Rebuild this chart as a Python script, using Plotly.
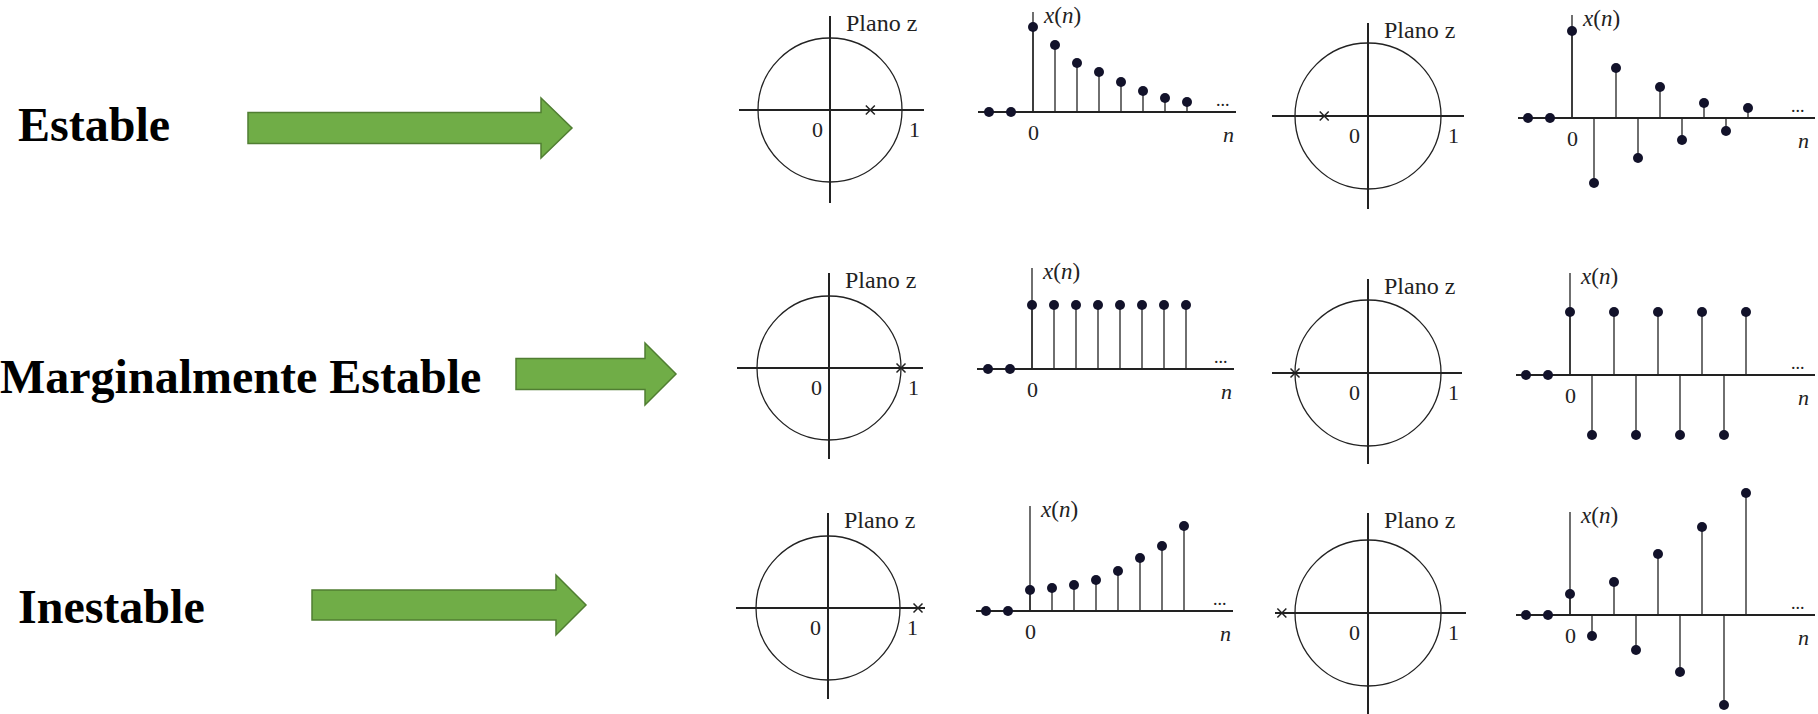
import plotly.graph_objects as go

W, H = 1818, 714

# etiquetas de cada fila
row_labels = ["Estable", "Marginalmente Estable", "Inestable"]

# polos sobre el eje real del plano z (fila por fila, izquierda y derecha)
poles = [0.56, -0.60, 1.0, -1.0, 1.25, -1.18]

# secuencias x(n): n = -2, -1 valen cero, luego n = 0, 1, 2, ...
n_neg = [-2, -1]
x_stable_pos = [0.85, 0.67, 0.49, 0.40, 0.30, 0.21, 0.14, 0.10]
x_stable_alt = [0.87, -0.65, 0.50, -0.40, 0.31, -0.22, 0.15, -0.13, 0.10]
x_marg_pos = [0.64, 0.64, 0.64, 0.64, 0.64, 0.64, 0.64, 0.64]
x_marg_alt = [0.63, -0.60, 0.63, -0.60, 0.63, -0.60, 0.63, -0.60, 0.63]
x_inest_pos = [0.21, 0.23, 0.26, 0.31, 0.40, 0.53, 0.65, 0.85]
x_inest_alt = [0.21, -0.21, 0.33, -0.35, 0.61, -0.57, 0.88, -0.90, 1.22]
sequences = [x_stable_pos, x_stable_alt, x_marg_pos, x_marg_alt, x_inest_pos, x_inest_alt]

# geometria en pixeles
# plano z: centro x, centro y, radio, eje horiz (izq, der), eje vert (arriba, abajo)
zgeom = [
    (830, 110, 72, 739, 924, 16, 203),
    (1368, 116, 73, 1272, 1464, 23, 209),
    (829, 368, 72, 737, 923, 273, 459),
    (1368, 373, 73, 1272, 1462, 279, 464),
    (828, 608, 72, 736, 925, 513, 699),
    (1368, 613, 73, 1275, 1466, 513, 714),
]
# stem: x de n=0, y del eje, eje horiz (izq, der), tope del eje vertical
sgeom = [
    (1033, 112, 978, 1236, 12),
    (1572, 118, 1518, 1815, 15),
    (1032, 369, 977, 1234, 268),
    (1570, 375, 1516, 1815, 273),
    (1030, 611, 976, 1233, 506),
    (1570, 615, 1516, 1815, 512),
]
SP = 22.0     # px por muestra
UNIT = 100.0  # px por unidad de x(n)

# flechas: x inicio, x punta, y centro, alto cuerpo, alto cabeza, largo cabeza
arrows = [
    (248, 572, 128, 31, 60, 31),
    (516, 676, 374, 31, 62, 31),
    (312, 586, 605, 30, 60, 30),
]
label_pos = [(16, 124), (-2, 376), (16, 606)]

INK = "#222222"
DOT = "#12122a"
SERIF = "Liberation Serif"


def px_dom_x(a, b):
    return [a / W, b / W]


def px_dom_y(top, bottom):
    return [1 - bottom / H, 1 - top / H]


fig = go.Figure()
annotations = []
shapes = []

axis_style = dict(showgrid=False, showticklabels=False, ticks="", showline=False,
                  zerolinecolor=INK, zerolinewidth=1.3, fixedrange=True)

for i in range(6):
    # ---- plano z ----
    k = 2 * i + 1
    cx, cy, r, xl, xr, yt, yb = zgeom[i]
    xa = "xaxis" if k == 1 else f"xaxis{k}"
    ya = "yaxis" if k == 1 else f"yaxis{k}"
    xr_ = "x" if k == 1 else f"x{k}"
    yr_ = "y" if k == 1 else f"y{k}"
    fig.update_layout(**{
        xa: dict(domain=px_dom_x(xl, xr), range=[(xl - cx) / r, (xr - cx) / r],
                 zeroline=True, anchor=yr_, **axis_style),
        ya: dict(domain=px_dom_y(yt, yb), range=[-(yb - cy) / r, (cy - yt) / r],
                 zeroline=True, anchor=xr_, **axis_style),
    })
    shapes.append(dict(type="circle", xref=xr_, yref=yr_, x0=-1, x1=1, y0=-1, y1=1,
                       line=dict(color=INK, width=1.3)))
    fig.add_trace(go.Scatter(x=[poles[i]], y=[0], mode="markers", xaxis=xr_, yaxis=yr_,
                             marker=dict(symbol="x-thin", size=9, line=dict(color=INK, width=1.5)),
                             cliponaxis=False, showlegend=False, hoverinfo="skip"))
    annotations += [
        dict(text="Plano z", x=0.19, y=(cy - yt) / r - 0.1, xref=xr_, yref=yr_,
             xanchor="left", yanchor="middle", showarrow=False,
             font=dict(family=SERIF, size=24, color="#222")),
        dict(text="0", x=-0.18, y=-0.27, xref=xr_, yref=yr_, showarrow=False,
             font=dict(family=SERIF, size=22, color="#222")),
        dict(text="1", x=1.17, y=-0.27, xref=xr_, yref=yr_, showarrow=False,
             font=dict(family=SERIF, size=22, color="#222")),
    ]

    # ---- secuencia x(n) ----
    k = 2 * i + 2
    x0p, ay, sl, sr, stop = sgeom[i]
    vals = sequences[i]
    ymax_px = max(ay - stop, max(vals) * UNIT + 8)
    # el rango debe incluir las etiquetas "0" y "n" bajo el eje
    ymin_px = max(34, -min(vals) * UNIT + 8)
    xa, ya = f"xaxis{k}", f"yaxis{k}"
    xr_, yr_ = f"x{k}", f"y{k}"
    fig.update_layout(**{
        xa: dict(domain=px_dom_x(sl, sr), range=[(sl - x0p) / SP, (sr - x0p) / SP],
                 zeroline=False, anchor=yr_, **axis_style),
        ya: dict(domain=px_dom_y(ay - ymax_px, ay + ymin_px),
                 range=[-ymin_px / UNIT, ymax_px / UNIT],
                 zeroline=True, anchor=xr_, **axis_style),
    })
    n = list(range(len(vals)))
    # eje vertical
    fig.add_trace(go.Scatter(x=[0, 0], y=[0, (ay - stop) / UNIT], mode="lines",
                             xaxis=xr_, yaxis=yr_, line=dict(color=INK, width=1.3),
                             showlegend=False, hoverinfo="skip"))
    # tallos
    sx, sy = [], []
    for nn, v in zip(n, vals):
        sx += [nn, nn, None]
        sy += [0, v, None]
    fig.add_trace(go.Scatter(x=sx, y=sy, mode="lines", xaxis=xr_, yaxis=yr_,
                             line=dict(color=INK, width=1.3),
                             showlegend=False, hoverinfo="skip"))
    fig.add_trace(go.Scatter(x=n_neg + n, y=[0] * len(n_neg) + vals, mode="markers",
                             xaxis=xr_, yaxis=yr_, cliponaxis=False,
                             marker=dict(size=10, color=DOT),
                             showlegend=False, hoverinfo="skip"))
    right_n = (min(sr, 1811) - x0p) / SP
    annotations += [
        dict(text="<i>x</i>(<i>n</i>)", x=0.35, y=(ay - stop) / UNIT - 0.03,
             xref=xr_, yref=yr_, xanchor="left", yanchor="middle", showarrow=False,
             font=dict(family=SERIF, size=23, color="#222")),
        dict(text="0", x=0, y=-0.2, xref=xr_, yref=yr_, showarrow=False,
             font=dict(family=SERIF, size=22, color="#222")),
        dict(text="<i>n</i>", x=right_n - 0.35, y=-0.22, xref=xr_, yref=yr_,
             showarrow=False, font=dict(family=SERIF, size=22, color="#222")),
        dict(text="...", x=right_n - 0.6, y=0.12, xref=xr_, yref=yr_,
             showarrow=False, font=dict(family=SERIF, size=18, color="#222")),
    ]

# flechas verdes
for (a0, a1, yc, bh, hh, hl) in arrows:
    hb = a1 - hl
    pts = [(a0, yc - bh / 2), (hb, yc - bh / 2), (hb, yc - hh / 2), (a1, yc),
           (hb, yc + hh / 2), (hb, yc + bh / 2), (a0, yc + bh / 2)]
    path = "M " + " L ".join(f"{x / W:.5f},{1 - y / H:.5f}" for x, y in pts) + " Z"
    shapes.append(dict(type="path", xref="paper", yref="paper", path=path,
                       fillcolor="#70AD47", line=dict(color="#507E32", width=1.5)))

for lab, (lx, ly) in zip(row_labels, label_pos):
    annotations.append(dict(text=lab, x=lx / W, y=1 - ly / H, xref="paper", yref="paper",
                            xanchor="left", yanchor="middle", showarrow=False,
                            font=dict(family=SERIF, size=48, color="black", weight="bold")))

fig.update_layout(
    width=W, height=H,
    margin=dict(l=0, r=0, t=0, b=0),
    paper_bgcolor="white", plot_bgcolor="white",
    showlegend=False, hovermode=False,
    shapes=shapes, annotations=annotations,
)

# quitar el margen por defecto del body para que la figura llene la ventana
fig.write_html("out.html", config={"displayModeBar": False, "staticPlot": True},
               post_script="document.body.style.margin='0';"
                           "document.body.style.overflow='hidden';")
